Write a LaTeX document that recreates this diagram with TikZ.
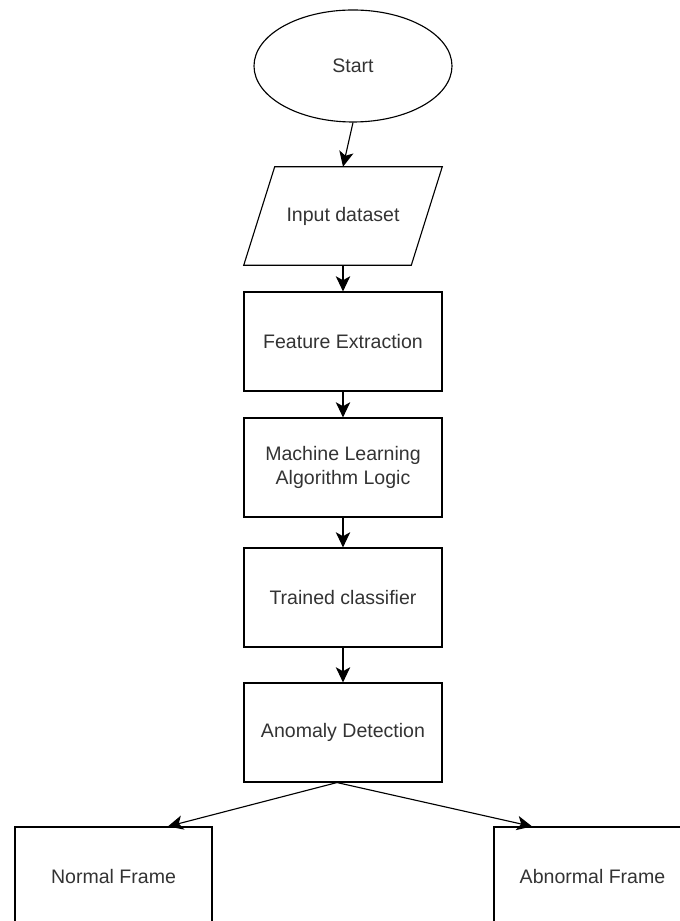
\documentclass[tikz,border=0pt]{standalone}
\usepackage{fontspec}
\setmainfont{Liberation Sans}
\usetikzlibrary{shapes.geometric,arrows.meta}

\begin{document}
\begin{tikzpicture}[
    every node/.style={text=black!80, font=\fontsize{13.9}{17}\selectfont, align=center},
    box/.style={draw, line width=0.8pt, minimum width=4.95cm, minimum height=2.475cm},
    flowarrow/.style={line width=0.8pt, -{Stealth[length=0.38cm, width=0.36cm, inset=0.1cm]}}
  ]

  \useasboundingbox (0,0) rectangle (17,23.025);

  % Start
  \node[draw, ellipse, line width=0.8pt, minimum width=4.95cm, minimum height=2.8cm] (start) at (8.825,21.375) {Start};

  % Input dataset (parallelogram drawn round the node)
  \node[minimum width=4.175cm, minimum height=2.45cm] (input) at (8.575,17.625) {Input dataset};
  \draw[line width=0.8pt] ([xshift=0.3875cm]input.north west) -- ([xshift=0.3875cm]input.north east)
    -- ([xshift=-0.3875cm]input.south east) -- ([xshift=-0.3875cm]input.south west) -- cycle;

  % Processing steps
  \node[box] (feature) at (8.575,14.4875) {Feature Extraction};
  \node[box] (mlalgo) at (8.575,11.3375) {Machine Learning\\Algorithm Logic};
  \node[box] (trained) at (8.575,8.0875) {Trained classifier};
  \node[box] (anomaly) at (8.575,4.7125) {Anomaly Detection};

  % Outcomes
  \node[box, minimum width=4.925cm] (normal) at (2.8375,1.1125) {Normal Frame};
  \node[box, minimum width=4.925cm] (abnormal) at (14.8125,1.1125) {Abnormal Frame};

  % Arrows
  \draw[flowarrow] (start.south) -- (input.north);
  \draw[flowarrow] (input.south) -- (feature.north);
  \draw[flowarrow] (feature.south) -- (mlalgo.north);
  \draw[flowarrow] (mlalgo.south) -- (trained.north);
  \draw[flowarrow] (trained.south) -- (anomaly.north);
  \draw[flowarrow] ([xshift=-0.15cm]anomaly.south) -- ([xshift=1.36cm]normal.north);
  \draw[flowarrow] ([xshift=-0.15cm]anomaly.south) -- ([xshift=-1.51cm]abnormal.north);

\end{tikzpicture}
\end{document}
